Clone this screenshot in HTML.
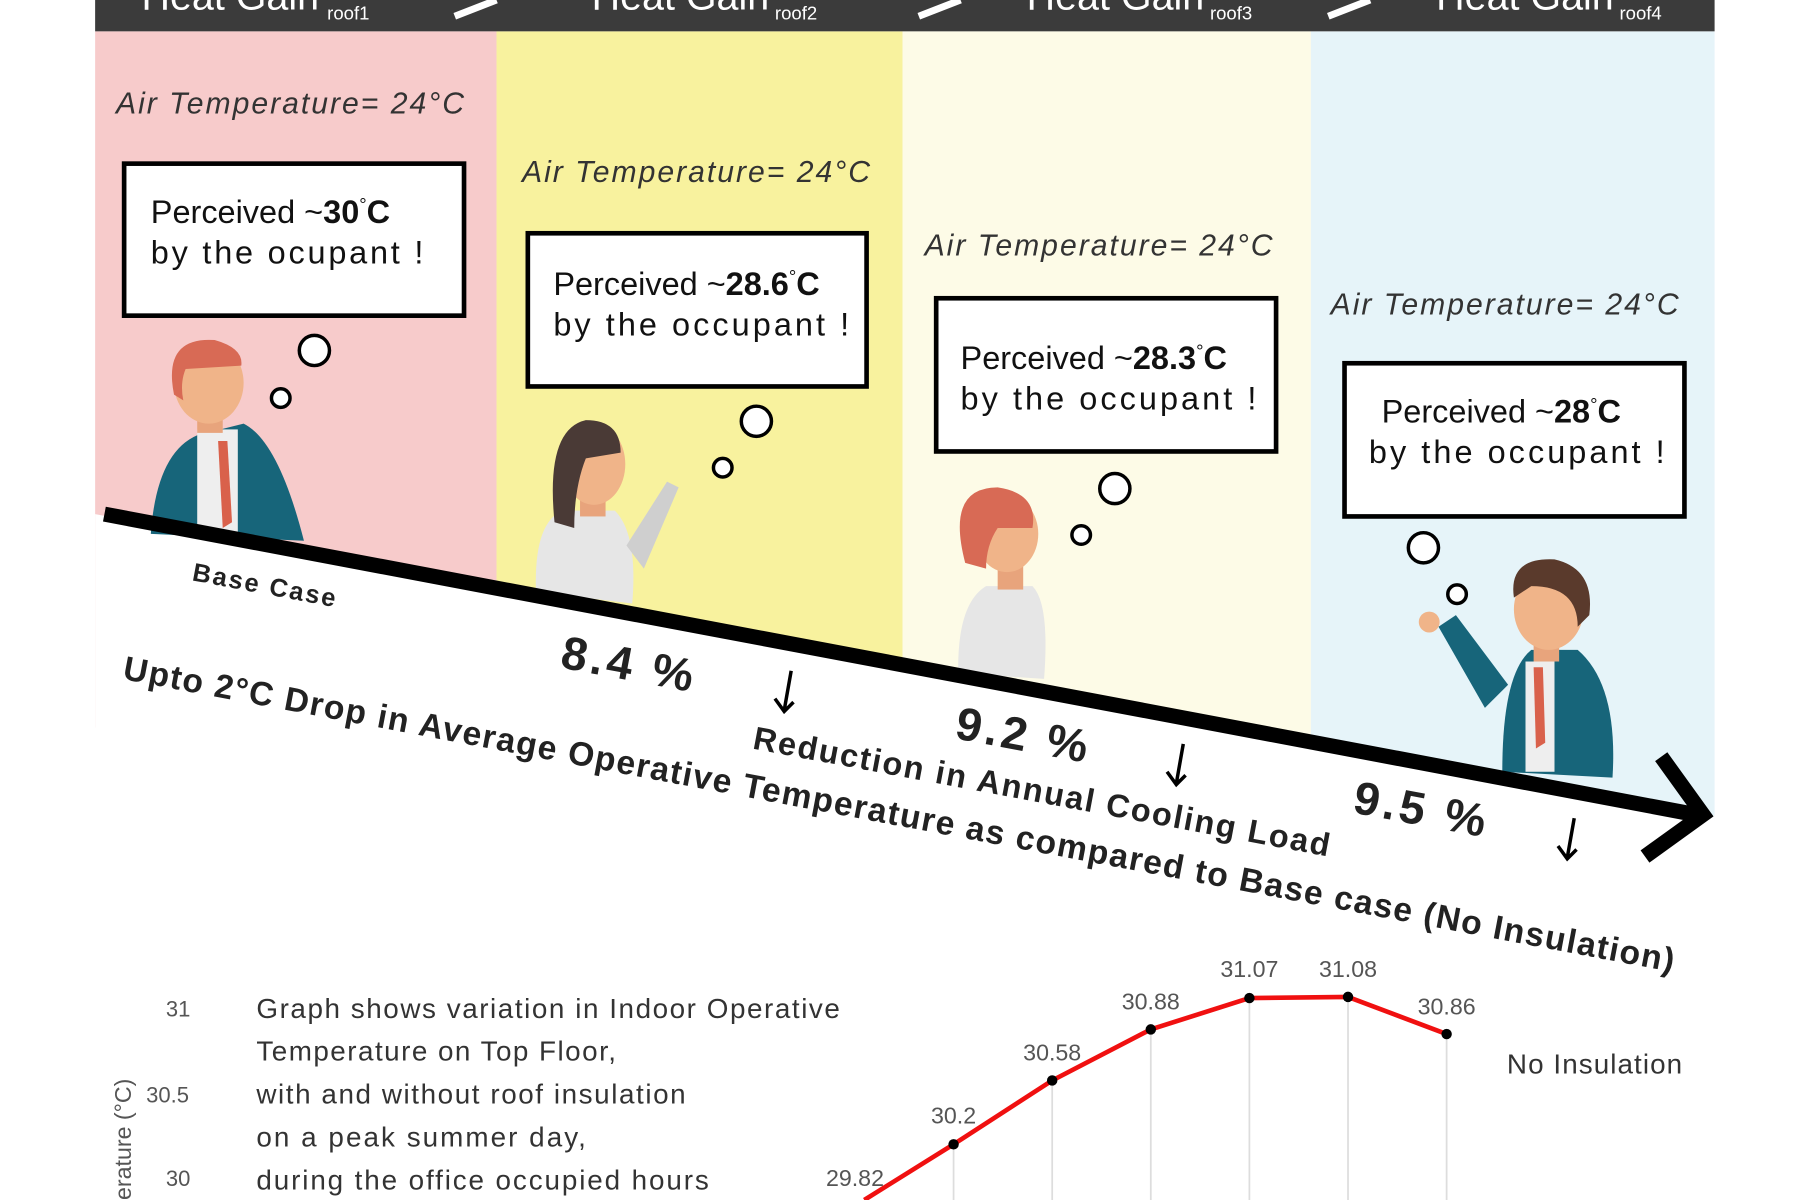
<!DOCTYPE html>
<html><head><meta charset="utf-8"><style>
html,body{margin:0;padding:0;background:#fff;overflow:hidden}
svg{display:block}
text{font-family:"Liberation Sans","DejaVu Sans",sans-serif}
</style></head><body>
<svg width="1819" height="1200" viewBox="0 0 1568 1034" preserveAspectRatio="none" xmlns="http://www.w3.org/2000/svg">
<rect width="1568" height="1034" fill="#fff"/>
<rect x="82" y="27" width="346" height="600" fill="#f7cbcb"/>
<rect x="428" y="27" width="350" height="600" fill="#f8f29e"/>
<rect x="778" y="27" width="352" height="620" fill="#fdfbe7"/>
<rect x="1130" y="27" width="348" height="680" fill="#e6f4f9"/>
<polygon points="82,443 1478,703 1478,1034 82,1034" fill="#fff"/>
<rect x="82" y="0" width="1396" height="27" fill="#3b3b3b"/>
<g fill="#fff">
<text x="122" y="8" font-size="34">Heat Gain</text><text x="282" y="17" font-size="16">roof1</text>
<text x="510" y="8" font-size="34">Heat Gain</text><text x="668" y="17" font-size="16">roof2</text>
<text x="885" y="8" font-size="34">Heat Gain</text><text x="1043" y="17" font-size="16">roof3</text>
<text x="1238" y="8" font-size="34">Heat Gain</text><text x="1396" y="17" font-size="16">roof4</text>
</g>
<g stroke="#fff" stroke-width="6"><line x1="392" y1="14" x2="428" y2="0"/><line x1="792" y1="14" x2="828" y2="0"/><line x1="1145" y1="14" x2="1181" y2="0"/></g>
<g font-size="26" font-style="italic" fill="#333">
<text x="100" y="98" textLength="300">Air Temperature= 24°C</text>
<text x="450" y="157" textLength="300">Air Temperature= 24°C</text>
<text x="797" y="220" textLength="300">Air Temperature= 24°C</text>
<text x="1147" y="271" textLength="300">Air Temperature= 24°C</text>
</g>
<g fill="#fff" stroke="#000" stroke-width="4">
<rect x="107" y="141" width="293" height="131"/>
<rect x="455" y="201" width="292" height="132"/>
<rect x="807" y="257" width="293" height="132"/>
<rect x="1159" y="313" width="293" height="132"/>
</g>
<g font-size="28" fill="#111">
<text x="130" y="192">Perceived ~<tspan font-weight="bold">30</tspan><tspan font-size="16" dy="-10">°</tspan><tspan dy="10" font-weight="bold">C</tspan></text>
<text x="130" y="227" textLength="235">by the ocupant !</text>
<text x="477" y="254">Perceived ~<tspan font-weight="bold">28.6</tspan><tspan font-size="16" dy="-10">°</tspan><tspan dy="10" font-weight="bold">C</tspan></text>
<text x="477" y="289" textLength="255">by the occupant !</text>
<text x="828" y="318">Perceived ~<tspan font-weight="bold">28.3</tspan><tspan font-size="16" dy="-10">°</tspan><tspan dy="10" font-weight="bold">C</tspan></text>
<text x="828" y="353" textLength="255">by the occupant !</text>
<text x="1191" y="364">Perceived ~<tspan font-weight="bold">28</tspan><tspan font-size="16" dy="-10">°</tspan><tspan dy="10" font-weight="bold">C</tspan></text>
<text x="1180" y="399" textLength="255">by the occupant !</text>
</g>
<g fill="#fff" stroke="#000" stroke-width="3">
<circle cx="271" cy="302" r="13"/><circle cx="242" cy="343" r="8"/>
<circle cx="652" cy="363" r="13"/><circle cx="623" cy="403" r="8"/>
<circle cx="961" cy="421" r="13"/><circle cx="932" cy="461" r="8"/>
<circle cx="1227" cy="472" r="13"/><circle cx="1256" cy="512" r="8"/>
</g>
<g>
<path d="M130,460 Q135,390 170,375 L210,365 Q240,380 262,466 Z" fill="#17657a"/>
<rect x="170" y="370" width="35" height="90" fill="#eee"/>
<path d="M188,380 L196,380 L200,450 L192,455 Z" fill="#d9614b"/>
<rect x="170" y="345" width="22" height="28" fill="#e8a47c"/>
<ellipse cx="180" cy="330" rx="30" ry="35" fill="#f0b489"/>
<path d="M150,340 Q140,290 185,293 Q210,300 208,315 L160,318 Q155,330 158,345 Z" fill="#d86a55"/>
<path d="M462,510 Q460,450 485,440 L530,440 Q550,460 545,520 Z" fill="#e6e6e6"/>
<path d="M540,470 L575,415 L585,420 L555,490 Z" fill="#cfcfcf"/>
<rect x="500" y="420" width="22" height="25" fill="#e8a47c"/>
<ellipse cx="512" cy="400" rx="27" ry="35" fill="#f0b489"/>
<path d="M478,450 Q470,370 505,362 Q535,362 535,390 L505,395 Q495,420 495,455 Z" fill="#4a3a36"/>
<path d="M826,580 Q825,520 850,505 L890,505 Q905,520 900,585 Z" fill="#e6e6e6"/>
<rect x="860" y="480" width="22" height="28" fill="#e8a47c"/>
<ellipse cx="868" cy="460" rx="27" ry="33" fill="#f0b489"/>
<path d="M832,485 Q815,420 860,420 Q895,425 890,455 L860,455 Q850,470 850,490 Z" fill="#d86a55"/>
<path d="M1295,665 Q1295,580 1320,560 L1360,560 Q1395,590 1390,670 Z" fill="#17657a"/>
<path d="M1240,540 L1280,610 L1300,590 L1255,530 Z" fill="#17657a"/>
<rect x="1315" y="570" width="25" height="95" fill="#eee"/>
<path d="M1322,575 L1330,575 L1332,640 L1324,645 Z" fill="#d9614b"/>
<rect x="1322" y="540" width="22" height="30" fill="#e8a47c"/>
<ellipse cx="1335" cy="525" rx="30" ry="35" fill="#f0b489"/>
<path d="M1305,515 Q1300,480 1340,482 Q1375,490 1370,530 L1360,540 Q1360,505 1320,505 Z" fill="#5a3a2c"/>
<circle cx="1232" cy="536" r="9" fill="#f0b489"/>
</g>
<line x1="90" y1="443" x2="1462" y2="702" stroke="#000" stroke-width="13"/>
<polyline points="1432,652 1468,702 1418,738" fill="none" stroke="#000" stroke-width="13"/>
<g font-weight="bold" fill="#222">
<text x="165" y="500" font-size="22" transform="rotate(10.6 165 500)" textLength="125">Base Case</text>
<text x="482" y="575" font-size="40" transform="rotate(10.6 482 575)" textLength="115">8.4 %</text>
<text x="822" y="636" font-size="40" transform="rotate(10.6 822 636)" textLength="115">9.2 %</text>
<text x="1165" y="700" font-size="40" transform="rotate(10.6 1165 700)" textLength="115">9.5 %</text>
<text x="648" y="645" font-size="28" transform="rotate(10.6 648 645)" textLength="505">Reduction in Annual Cooling Load</text>
<text x="105" y="585" font-size="29" transform="rotate(10.7 105 585)" textLength="1360">Upto 2°C Drop in Average Operative Temperature as compared to Base case (No Insulation)</text>
</g>
<g stroke="#000" stroke-width="3" fill="none">
<path d="M682,578 L676,612 M668,602 L676,613 L684,605"/>
<path d="M1020,641 L1014,675 M1006,665 L1014,676 L1022,668"/>
<path d="M1357,705 L1351,739 M1343,729 L1351,740 L1359,732"/>
</g>
<g font-size="19" fill="#555">
<text x="143" y="876">31</text><text x="126" y="950">30.5</text><text x="143" y="1022">30</text>
<text transform="translate(113 1034) rotate(-90)" font-size="20">erature (°C)</text>
</g>
<g font-size="24" fill="#333">
<text x="221" y="877" textLength="503">Graph shows variation in Indoor Operative</text>
<text x="221" y="914" textLength="310">Temperature on Top Floor,</text>
<text x="221" y="951" textLength="370">with and without roof insulation</text>
<text x="221" y="988" textLength="284">on a peak summer day,</text>
<text x="221" y="1025" textLength="390">during the office occupied hours</text>
<text x="1299" y="925" textLength="151">No Insulation</text>
</g>
<g stroke="#ddd" stroke-width="1.5">
<line x1="822" y1="986" x2="822" y2="1034"/><line x1="907" y1="931" x2="907" y2="1034"/>
<line x1="992" y1="887" x2="992" y2="1034"/><line x1="1077" y1="860" x2="1077" y2="1034"/>
<line x1="1162" y1="859" x2="1162" y2="1034"/><line x1="1247" y1="891" x2="1247" y2="1034"/>
</g>
<polyline points="745,1034 822,986 907,931 992,887 1077,860 1162,859 1247,891" fill="none" stroke="#f01010" stroke-width="4"/>
<g fill="#000"><circle cx="822" cy="986" r="4.5"/><circle cx="907" cy="931" r="4.5"/><circle cx="992" cy="887" r="4.5"/><circle cx="1077" cy="860" r="4.5"/><circle cx="1162" cy="859" r="4.5"/><circle cx="1247" cy="891" r="4.5"/></g>
<g font-size="20" fill="#555" text-anchor="middle">
<text x="737" y="1022">29.82</text><text x="822" y="968">30.2</text><text x="907" y="914">30.58</text>
<text x="992" y="870">30.88</text><text x="1077" y="842">31.07</text><text x="1162" y="842">31.08</text><text x="1247" y="874">30.86</text>
</g>
</svg>
</body></html>
